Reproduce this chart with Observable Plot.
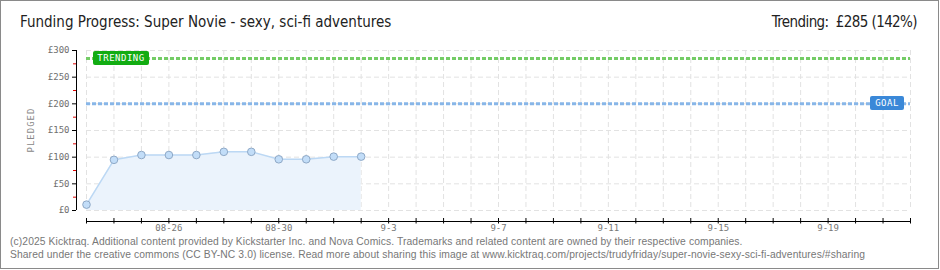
<!DOCTYPE html>
<html><head><meta charset="utf-8">
<script src="https://cdn.jsdelivr.net/npm/d3@7"></script>
<script src="https://cdn.jsdelivr.net/npm/@observablehq/plot@0.6"></script>
<style>
body{margin:0;background:#fff;}
#wrap{position:relative;width:940px;height:270px;overflow:hidden;background:#fff;}
#border{position:absolute;left:0;top:0;width:939px;height:269px;box-sizing:border-box;border:1px solid #8a8a8a;pointer-events:none;}
#title{position:absolute;left:20px;top:13px;font:15px "DejaVu Sans Condensed";color:#222;white-space:nowrap;}
#trend{position:absolute;right:23px;top:13px;font:15px "DejaVu Sans Condensed";letter-spacing:-0.6px;color:#222;white-space:nowrap;}
#chart{position:absolute;left:0;top:40px;}
#ylab{position:absolute;left:31px;top:130px;transform:translate(-50%,-50%) rotate(-90deg);font:9px "DejaVu Sans Mono";letter-spacing:1px;color:#888;white-space:nowrap;}
.foot{position:absolute;left:10px;font:10.3px "Liberation Sans";letter-spacing:0.1px;color:#777;white-space:nowrap;}
.tag{position:absolute;color:#fff;font:9px "DejaVu Sans Mono";letter-spacing:0.5px;border-radius:2px;text-align:center;line-height:14px;height:14px;}
</style></head>
<body>
<div id="wrap">
  <div id="title">Funding Progress: Super Novie - sexy, sci-fi adventures</div>
  <div id="trend">Trending:&nbsp; £285 (142%)</div>
  <div id="chart"></div>
  <div id="ylab">PLEDGED</div>
  <div class="foot" style="top:236px">(c)2025 Kicktraq. Additional content provided by Kickstarter Inc. and Nova Comics. Trademarks and related content are owned by their respective companies.</div>
  <div class="foot" style="top:249px">Shared under the creative commons (CC BY-NC 3.0) license. Read more about sharing this image at www.kicktraq.com/projects/trudyfriday/super-novie-sexy-sci-fi-adventures/#sharing</div>
  <div id="border"></div>
</div>
<script>
const dates = ["2025-08-23","2025-08-24","2025-08-25","2025-08-26","2025-08-27","2025-08-28","2025-08-29","2025-08-30","2025-08-31","2025-09-01","2025-09-02"];
const pledged = [11, 95, 104, 104, 104, 110, 110, 96, 96, 101, 101];
const goal = 200;
const trending = 285;
const xStart = "2025-08-23";
const xEnd = "2025-09-22";
const xLabelDates = ["2025-08-26","2025-08-30","2025-09-03","2025-09-07","2025-09-11","2025-09-15","2025-09-19"];
const xLabels = ["08-26","08-30","9-3","9-7","9-11","9-15","9-19"];
const yTicks = [0, 50, 100, 150, 200, 250, 300];
const yLabels = ["£0","£50","£100","£150","£200","£250","£300"];
const yMinor = [25, 75, 125, 175, 225, 275];

const parse = d3.utcParse("%Y-%m-%d");
const data = dates.map((d, i) => ({date: parse(d), value: pledged[i]}));
const days = d3.utcDay.range(parse(xStart), d3.utcDay.offset(parse(xEnd), 1));
const labelDates = xLabelDates.map(parse);
const labelMap = new Map(labelDates.map((d, i) => [+d, xLabels[i]]));
const yLabelMap = new Map(yTicks.map((v, i) => [v, yLabels[i]]));

const grid = "#e2e2e2";
const chart = Plot.plot({
  width: 940, height: 195,
  marginTop: 10, marginBottom: 25, marginLeft: 86, marginRight: 30,
  style: {fontFamily: "DejaVu Sans Mono", background: "transparent"},
  x: {type: "utc", domain: [parse(xStart), parse(xEnd)]},
  y: {domain: [0, 300]},
  marks: [
    Plot.ruleY(yTicks, {stroke: grid, strokeDasharray: "5,3", strokeWidth: 1}),
    Plot.ruleX(days, {stroke: grid, strokeDasharray: "5,3", strokeWidth: 1}),
    Plot.areaY(data, {x: "date", y: "value", fill: "#ebf3fc"}),
    Plot.lineY(data, {x: "date", y: "value", stroke: "#bcd8f4", strokeWidth: 1.5}),
    Plot.ruleY([goal], {stroke: "#88b6e8", strokeWidth: 3, strokeDasharray: "4,2"}),
    Plot.ruleY([trending], {stroke: "#74cc66", strokeWidth: 3, strokeDasharray: "4,2"}),
    Plot.dot(data, {x: "date", y: "value", r: 3.8, fill: "#c2ddf8", stroke: "#8ea8c6", strokeWidth: 1}),
    // y axis
    Plot.ruleX([parse(xStart)], {y1: 0, y2: 300, dx: -10, stroke: "#000", strokeWidth: 1}),
    Plot.axisY({ticks: yTicks, tickSize: 4, tickPadding: 3, dx: -10, tickFormat: d => yLabelMap.get(d), fill: "#6f6f6f", fontSize: 9, letterSpacing: 0.6, label: null, stroke: "#000"}),
    Plot.axisY({ticks: yMinor, tickSize: 3, dx: -10, tickFormat: () => "", stroke: "#e00000", label: null}),
    // x axis
    Plot.ruleY([0], {dy: 11, stroke: "#000", strokeWidth: 1}),
    Plot.axisX({ticks: days, tickSize: 5.5, dy: 8, tickFormat: () => "", stroke: "#000", label: null}),
    Plot.axisX({ticks: labelDates, tickSize: 0, tickPadding: 0, dy: 14, tickFormat: d => labelMap.get(+d), fill: "#777", fontSize: 9, letterSpacing: 0.6, label: null})
  ]
});
document.getElementById("chart").appendChild(chart);

const ys = chart.scale("y"), xs = chart.scale("x");
const wrap = document.getElementById("wrap");
function tag(text, color, yv, left, right, w) {
  const el = document.createElement("div");
  el.className = "tag";
  el.textContent = text;
  el.style.background = color;
  el.style.width = w + "px";
  el.style.top = (40 + ys.apply(yv) - 7) + "px";
  if (left != null) el.style.left = left + "px"; else el.style.left = (right - w) + "px";
  wrap.insertBefore(el, document.getElementById("border"));
}
tag("TRENDING", "#12ac12", trending, xs.range[0] + 7, null, 56);
tag("GOAL", "#3a88d8", goal, null, xs.range[1] - 6, 34);
</script>
</body></html>
